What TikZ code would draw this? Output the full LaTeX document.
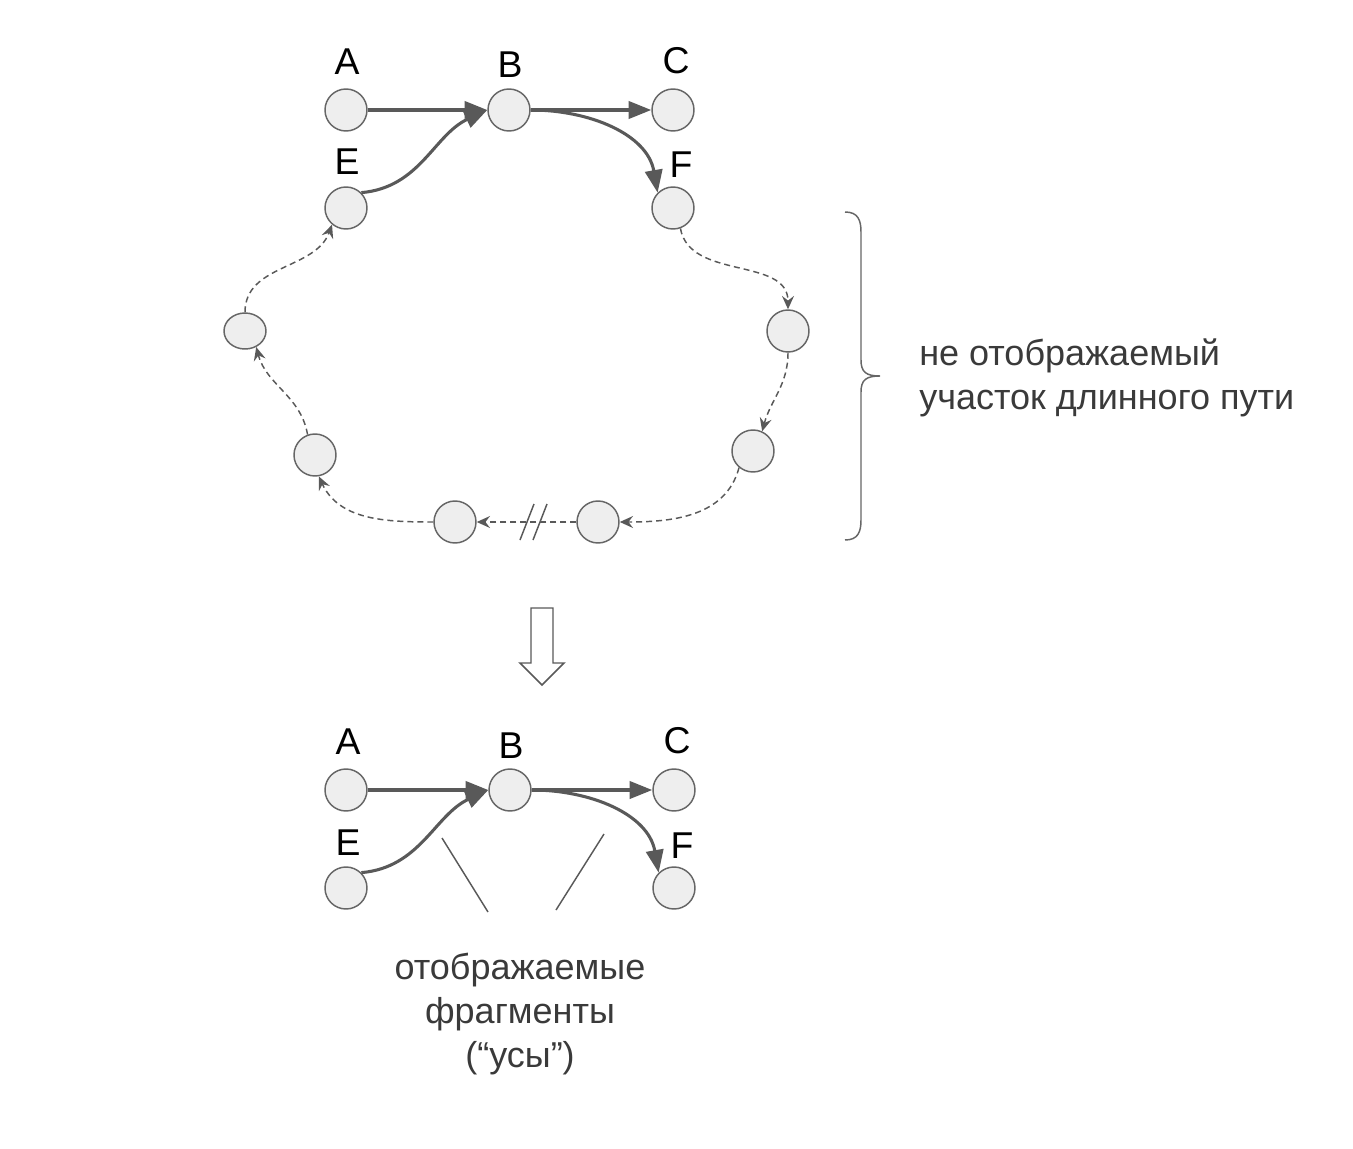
\documentclass[tikz,border=0pt]{standalone}
\usepackage{fontspec}
\setmainfont{Liberation Sans}
\usetikzlibrary{arrows.meta,shapes.geometric}
\definecolor{nodefill}{HTML}{EEEEEE}
\definecolor{nodeline}{HTML}{666666}
\definecolor{edgecol}{HTML}{595959}
\definecolor{txtgray}{HTML}{3A3A3A}
\begin{document}
\begin{tikzpicture}[x=0.75pt,y=-0.75pt,
 vert/.style={circle,draw=nodeline,fill=nodefill,line width=1.1pt,minimum size=31.5pt,inner sep=0pt},
 overt/.style={ellipse,draw=nodeline,fill=nodefill,line width=1.1pt,minimum width=31.5pt,minimum height=27pt,inner sep=0pt},
 lbl/.style={font=\fontsize{28}{32}\selectfont,text=black,inner sep=0pt},
 solidedge/.style={draw=edgecol,line width=2.3pt,-{Triangle[length=17pt,width=13pt]}},
 dashedge/.style={draw=edgecol,line width=1.1pt,dash pattern=on 4.5pt off 3pt,-{Stealth[length=10pt,width=9pt,inset=3.5pt]}},
 thinline/.style={draw=edgecol,line width=1.1pt},
 gtext/.style={text=txtgray,font=\fontsize{27}{33}\selectfont,inner sep=0pt}]
\useasboundingbox (0,0) rectangle (1353,1149);
% ---------- top graph ----------
\node[vert] (A) at (346,110) {};
\node[vert] (B) at (509,110) {};
\node[vert] (C) at (673,110) {};
\node[vert] (E) at (346,208) {};
\node[vert] (F) at (673,208) {};
\node[lbl] (lA) at (347,62) {A};
\node[lbl] (lB) at (510,65) {B};
\node[lbl] (lC) at (676,61) {C};
\node[lbl] (lE) at (347,162) {E};
\node[lbl] (lF) at (681,165) {F};
\node[vert] (n1) at (788,331) {};
\node[vert] (n2) at (753,451) {};
\node[vert] (n3) at (598,522) {};
\node[vert] (n4) at (455,522) {};
\node[vert] (n5) at (315,455) {};
\node[overt] (n6) at (245,331) {};
\draw[solidedge] (A.east) -- (B.west);
\draw[solidedge] (B.east) -- (C.west);
\draw[solidedge] (E.45) to[out=5,in=205] (B.west);
\draw[solidedge] (B.east) to[out=0,in=100] (F.135);
\draw[dashedge] (F.-70) to[out=-80,in=90] (n1.north);
\draw[dashedge] (n1.south) to[out=-90,in=75] (n2.65);
\draw[dashedge] (n2.-130) to[out=-105,in=0] (n3.east);
\draw[dashedge] (n3.west) -- (n4.east);
\coordinate (s1a) at (520,540); \coordinate (s1b) at (534,504);
\coordinate (s2a) at (533,540); \coordinate (s2b) at (547,504);
\draw[thinline] (s1a) -- (s1b);
\draw[thinline] (s2a) -- (s2b);
\draw[dashedge] (n4.west) to[out=180,in=-65] (n5.-80);
\draw[dashedge] (n5.110) to[out=100,in=-75] (n6.-55);
\draw[dashedge] (n6.north) to[out=90,in=-110] (E.-130);
% brace
\draw[draw=nodeline,line width=1.1pt] (845,212) .. controls (858,212) and (861,220) .. (861,232) -- (861,360) .. controls (861,372) and (866,376) .. (880,376) .. controls (866,376) and (861,380) .. (861,392) -- (861,520) .. controls (861,532) and (858,540) .. (845,540);
\node[gtext,anchor=west,align=left] (t1) at (919,378) {не отображаемый\\участок длинного пути};
% down arrow
\draw[draw=edgecol,line width=1.1pt,fill=white] (531,608) -- (553,608) -- (553,663) -- (564,663) -- (542,685) -- (520,663) -- (531,663) -- cycle;
% ---------- bottom graph ----------
\node[vert] (A2) at (346,790) {};
\node[vert] (B2) at (510,790) {};
\node[vert] (C2) at (674,790) {};
\node[vert] (E2) at (346,888) {};
\node[vert] (F2) at (674,888) {};
\node[lbl] (lA2) at (348,742) {A};
\node[lbl] (lB2) at (511,746) {B};
\node[lbl] (lC2) at (677,741) {C};
\node[lbl] (lE2) at (348,843) {E};
\node[lbl] (lF2) at (682,846) {F};
\draw[solidedge] (A2.east) -- (B2.west);
\draw[solidedge] (B2.east) -- (C2.west);
\draw[solidedge] (E2.45) to[out=5,in=205] (B2.west);
\draw[solidedge] (B2.east) to[out=0,in=100] (F2.135);
\coordinate (w1a) at (442,838); \coordinate (w1b) at (488,912);
\coordinate (w2a) at (604,834); \coordinate (w2b) at (556,910);
\draw[thinline] (w1a) -- (w1b);
\draw[thinline] (w2a) -- (w2b);
\node[gtext,align=center] (t2) at (520,1014) {отображаемые\\фрагменты\\(“усы”)};
\end{tikzpicture}
\end{document}
